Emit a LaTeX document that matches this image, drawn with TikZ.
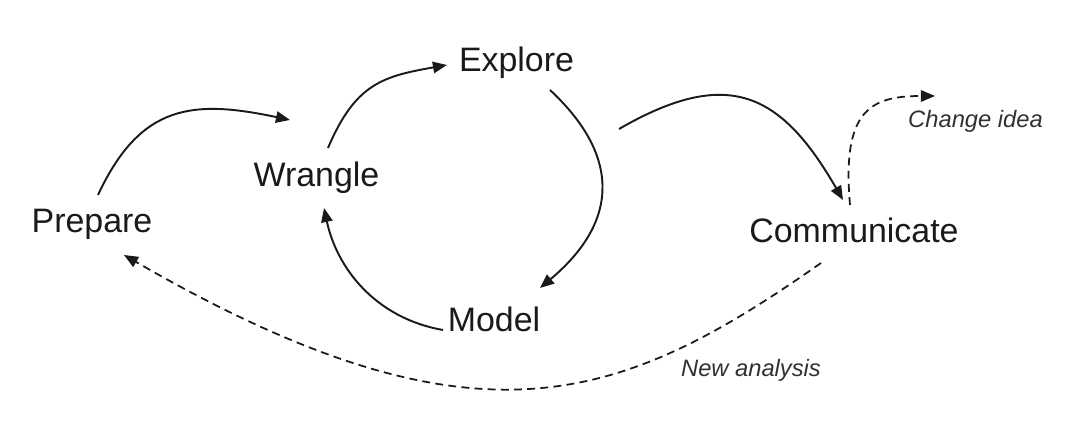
\documentclass[tikz,border=0pt]{standalone}
\usepackage{fontspec}
\setmainfont{Liberation Sans}
\usetikzlibrary{arrows.meta}
\definecolor{ink}{HTML}{1A1A1A}

\begin{document}
\begin{tikzpicture}[
    stage/.style={font=\fontsize{19.3}{23}\selectfont, text=ink, inner sep=0pt, anchor=base},
    note/.style={font=\fontsize{13.5}{16}\selectfont\itshape, text=ink!90, inner sep=0pt, anchor=base},
    flow/.style={-{Triangle[length=8pt, width=6.5pt]}, line width=1.1pt, color=ink},
    back/.style={-{Triangle[length=8pt, width=6.5pt]}, line width=1.0pt, color=ink,
                 dash pattern=on 4.5pt off 3pt},
]
\useasboundingbox (0,0) rectangle (21.6,8.7);

% ================================================================ stages
\node[stage] (prepare)     at (1.84, 4.04)  {Prepare};
\node[stage] (wrangle)     at (6.33, 4.96)  {Wrangle};
\node[stage] (explore)     at (10.33, 7.26) {Explore};
\node[stage] (model)       at (9.88, 2.06)  {Model};
\node[stage] (communicate) at (17.08, 3.84) {Communicate};

\node[note] (change)   at (19.51, 6.14) {Change idea};
\node[note] (analysis) at (15.02, 1.16) {New analysis};

% ================================================================ loop
\draw[flow] ([shift={(0.12,0.76)}]prepare.base)
    .. controls +(65:2.0) and +(168:2.0) .. ([shift={(-0.53,1.34)}]wrangle.base);
\draw[flow] ([shift={(0.23,0.78)}]wrangle.base)
    .. controls +(67:1.4) and +(190:1.3) .. ([shift={(-1.39,0.14)}]explore.base);
\draw[flow] ([shift={(0.67,-0.36)}]explore.base)
    .. controls +(-43:1.9) and +(40:2.1) .. ([shift={(0.92,0.88)}]model.base);
\draw[flow] ([shift={(-1.02,0.04)}]model.base)
    .. controls +(170:1.4) and +(-78:1.2) .. ([shift={(0.15,-0.42)}]wrangle.base);
\draw[flow] ([shift={(2.05,-1.14)}]explore.base)
    .. controls +(30:2.5) and +(120:2.5) .. ([shift={(-0.22,0.86)}]communicate.base);

% ================================================================ way back
\draw[back] ([shift={(-0.08,0.76)}]communicate.base)
    .. controls +(95:1.9) and +(180:1.3) .. ([shift={(-0.81,0.64)}]change.base);
\draw[back] ([shift={(-0.66,-0.40)}]communicate.base)
    .. controls +(215:4.88) and +(-30:8.16) .. ([shift={(0.64,-0.44)}]prepare.base);

\end{tikzpicture}
\end{document}
